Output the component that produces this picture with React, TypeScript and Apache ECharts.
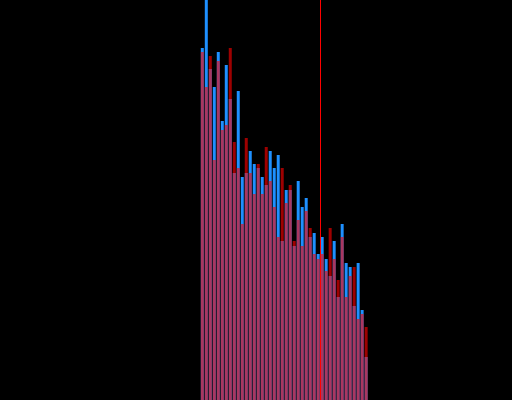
import React, { useEffect, useRef } from "react";
import * as echarts from "echarts";

// histogram bins (index of bin, width 1)
const bins: number[] = Array.from({ length: 42 }, (_, i) => i);

const blueCounts: number[] = [
  352, 430, 331, 313, 348, 279, 335, 301, 227, 309,
  223, 227, 249, 236, 232, 223, 215, 249, 232, 245,
  159, 210, 210, 154, 219, 193, 202, 163, 167, 146,
  163, 141, 124, 159, 103, 176, 137, 133, 94, 137,
  90, 43,
];

const redCounts: number[] = [
  348, 313, 344, 240, 339, 270, 275, 352, 258, 232,
  176, 262, 227, 206, 236, 206, 253, 219, 193, 163,
  232, 197, 215, 159, 180, 154, 189, 172, 146, 141,
  146, 129, 172, 141, 120, 163, 103, 124, 133, 81,
  86, 73,
];

const thresholdValue = 30;

export default function App() {
  const ref = useRef<HTMLDivElement>(null);
  useEffect(() => {
    if (!ref.current) return;
    const chart = echarts.init(ref.current, undefined, { renderer: "svg" });
    chart.setOption({
      animation: false,
      backgroundColor: "#000000",
      grid: { left: 0.5, top: 0, width: 512, height: 400 },
      xAxis: {
        type: "value",
        min: -50,
        max: 78,
        show: false,
        splitLine: { show: false },
      },
      yAxis: {
        type: "value",
        min: 0,
        max: 400,
        show: false,
        splitLine: { show: false },
      },
      series: [
        {
          type: "bar",
          barWidth: 3,
          barGap: "-100%",
          itemStyle: { color: "#1e90ff" },
          data: bins.map((b, i) => [b + 0.5, blueCounts[i]]),
        },
        {
          type: "bar",
          barWidth: 3,
          barGap: "-100%",
          itemStyle: { color: "#ff0000", opacity: 0.62 },
          data: bins.map((b, i) => [b + 0.5, redCounts[i]]),
          markLine: {
            silent: true,
            symbol: ["none", "none"],
            label: { show: false },
            lineStyle: { color: "#ff0000", width: 1, type: "solid", opacity: 1 },
            data: [{ xAxis: thresholdValue }],
          },
        },
      ],
    });
    return () => chart.dispose();
  }, []);
  return (
    <div
      ref={ref}
      style={{ position: "fixed", left: 0, top: 0, width: 512, height: 400 }}
    />
  );
}
